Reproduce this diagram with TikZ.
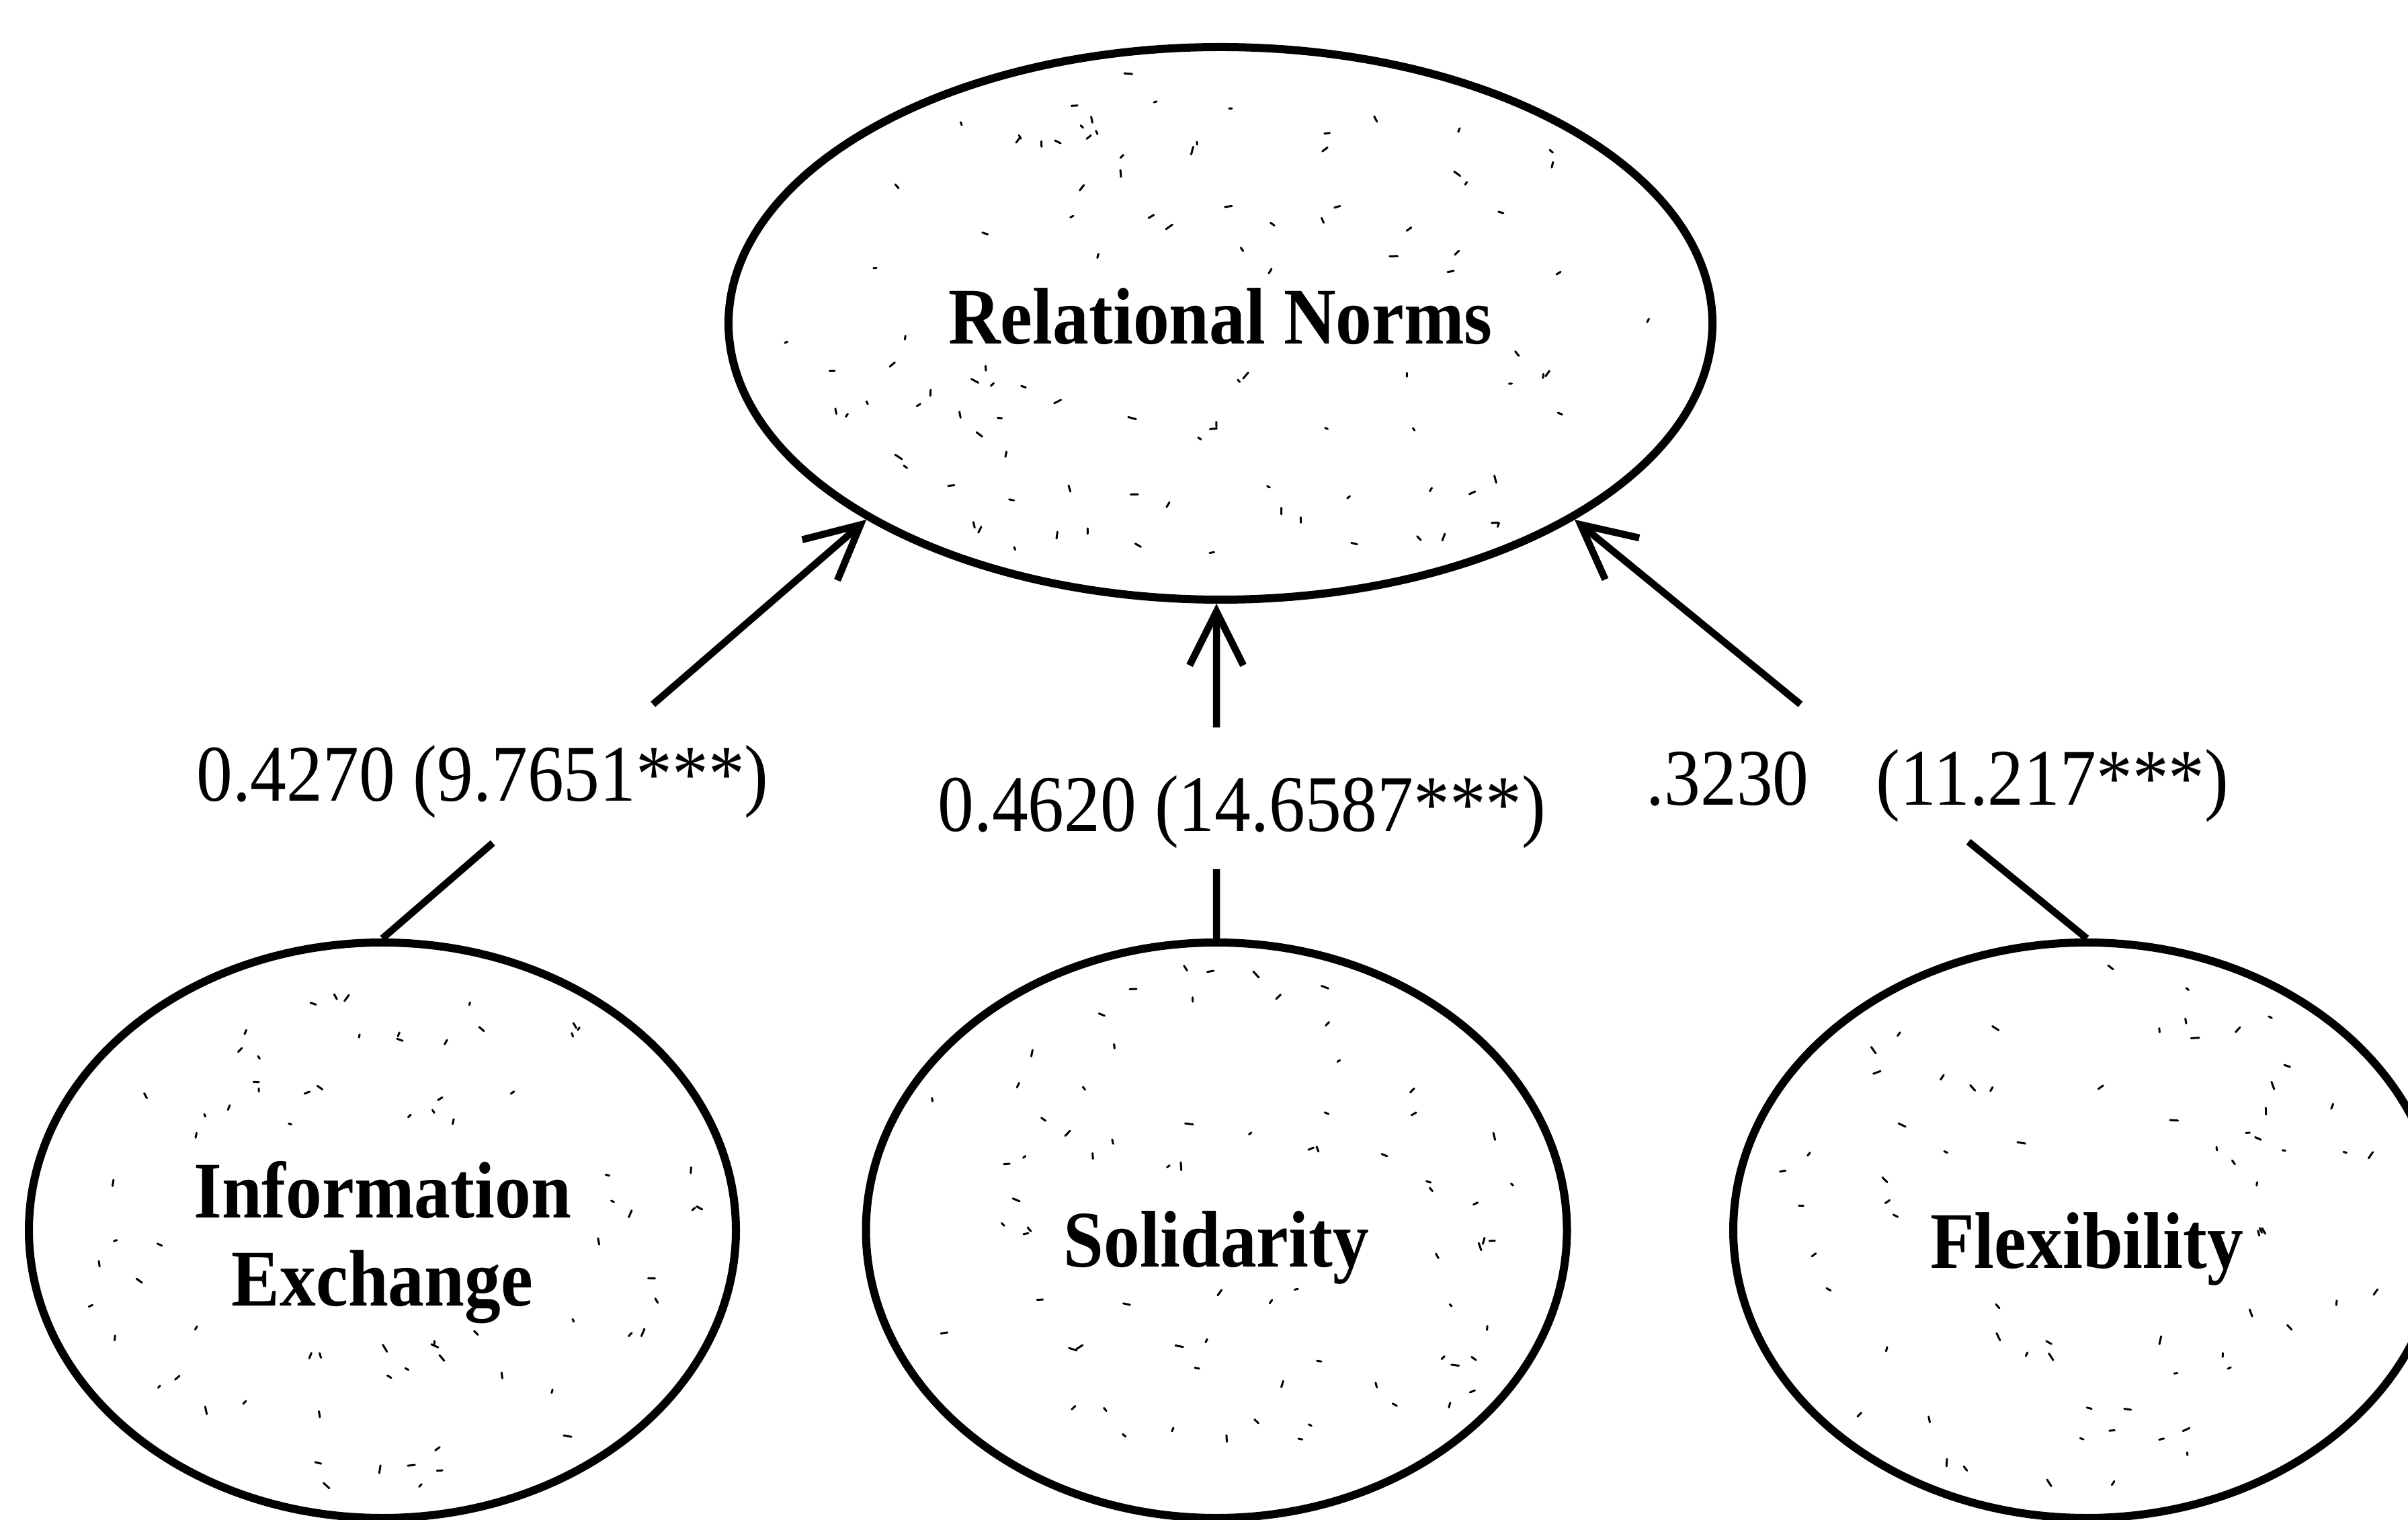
\documentclass[tikz,border=0pt]{standalone}
\usepackage{fontspec}
\setmainfont[FakeStretch=0.9]{Liberation Serif}
\usetikzlibrary{arrows.meta,shapes.geometric,calc}

% Light stipple of short strokes inside an ellipse, kept clear of the label.
% #1,#2 centre  #3,#4 radii  #5 count  #6,#7 half size of the label area
\newcommand\speckle[7]{%
  \foreach \spi in {1,...,#5}{%
    \pgfmathsetmacro\spa{360*rnd}%
    \pgfmathsetmacro\spr{0.93*sqrt(rnd)}%
    \pgfmathsetmacro\spx{#1+#3*\spr*cos(\spa)}%
    \pgfmathsetmacro\spy{#2+#4*\spr*sin(\spa)}%
    \pgfmathsetmacro\spt{180*rnd}%
    \pgfmathsetmacro\spl{0.04+0.08*rnd}%
    \pgfmathtruncatemacro\spk{(abs(\spx-#1)<#6 && abs(\spy-#2)<#7) ? 0 : 1}%
    \ifnum\spk=1 \draw[speck] (\spx,\spy) -- ++(\spt:\spl);\fi
  }}

\begin{document}
\begin{tikzpicture}[
  construct/.style={draw, ellipse, line width=1.2mm, inner sep=0pt,
    font=\fontsize{34}{37.3}\selectfont\bfseries},
  link/.style={line width=1.05mm},
  headed/.style={-{Straight Barb[length=8mm,width=8mm]}},
  coef/.style={font=\fontsize{34}{38}\selectfont, inner sep=0pt, anchor=base},
  speck/.style={line width=0.3mm, line cap=round}
]
\clip (0,0) rectangle (35.83,22.60);
\fill[white] (0,0) rectangle (35.83,22.60);

% stipple texture of the constructs
\pgfmathsetseed{11}
\speckle{18.16}{17.79}{7.3}{4.1}{130}{4.4}{0.7}
\speckle{5.69}{4.30}{5.2}{4.25}{95}{3.1}{1.3}
\speckle{18.10}{4.30}{5.2}{4.25}{85}{2.5}{0.85}
\speckle{31.05}{4.30}{5.2}{4.25}{80}{2.5}{0.85}

% constructs
\node[construct, minimum width=14.64cm, minimum height=8.22cm,
      text height=0.62cm, text depth=0cm] (rn) at (18.16,17.79) {Relational Norms};
\node[construct, minimum width=10.52cm, minimum height=8.56cm,
      text height=0.8cm, text depth=1.18cm] (ie) at (5.69,4.30)
      {\begin{tabular}[t]{@{}c@{}}Information\\Exchange\end{tabular}};
\node[construct, minimum width=10.43cm, minimum height=8.56cm,
      text height=1.08cm, text depth=0cm] (sol) at (18.10,4.30) {Solidarity};
\node[construct, minimum width=10.52cm, minimum height=8.56cm,
      text height=1.12cm, text depth=0cm] (fl) at (31.05,4.30) {Flexibility};

% path coefficients
\node[coef] (c1) at (7.18,10.68) {0.4270 (9.7651***)};
\node[coef] (c2) at (18.48,10.23) {0.4620 (14.6587***)};
\node[coef] (c3) at (28.83,10.62) {.3230\hspace{1.0cm}(11.217***)};

% connectors, broken where the coefficients stand
\coordinate (ia) at ($(ie.north)!0.228!(rn.209)$);
\coordinate (ib) at ($(ie.north)!0.559!(rn.209)$);
\draw[link] (ie.north) -- (ia);
\draw[link, headed] (ib) -- (rn.209);

\coordinate (mtop) at (sol.north |- rn.south);
\coordinate (ma) at ($(sol.north)!0.207!(mtop)$);
\coordinate (mb) at ($(sol.north)!0.63!(mtop)$);
\draw[link] (sol.north) -- (ma);
\draw[link, headed] (mb) -- (mtop);

\coordinate (fa) at ($(fl.north)!0.231!(rn.331)$);
\coordinate (fb) at ($(fl.north)!0.559!(rn.331)$);
\draw[link] (fl.north) -- (fa);
\draw[link, headed] (fb) -- (rn.331);
\end{tikzpicture}
\end{document}
